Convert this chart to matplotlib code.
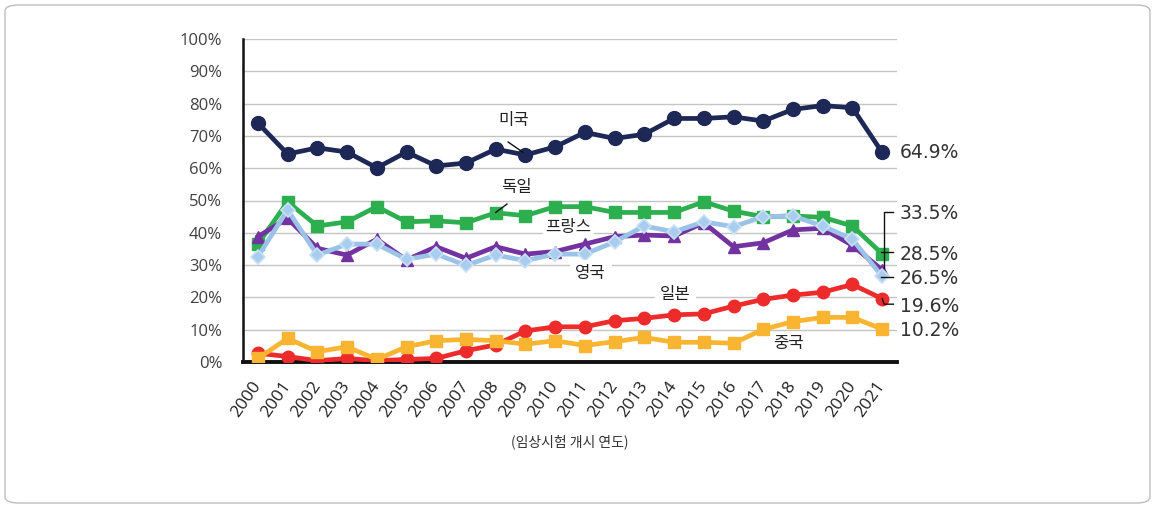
import matplotlib
matplotlib.use("Agg")
import matplotlib.pyplot as plt
from matplotlib.patches import FancyBboxPatch

plt.rcParams['font.family'] = ['Noto Sans CJK KR', 'DejaVu Sans']

years = list(range(2000, 2022))
usa = [74.0, 64.4, 66.3, 65.0, 60.1, 65.0, 60.7, 61.6, 65.9, 64.1, 66.6,
       71.1, 69.2, 70.5, 75.4, 75.4, 75.9, 74.6, 78.2, 79.4, 78.7, 64.9]
germany = [36.5, 49.6, 42.1, 43.4, 48.1, 43.4, 43.7, 43.1, 46.2, 45.3, 48.1,
           48.1, 46.3, 46.3, 46.3, 49.6, 46.7, 45.0, 45.2, 44.8, 42.1, 33.5]
france = [38.8, 44.5, 35.2, 33.1, 38.0, 31.6, 35.7, 32.1, 35.7, 33.4, 34.2,
          36.5, 38.8, 39.3, 39.0, 43.1, 35.7, 36.9, 40.9, 41.4, 36.1, 28.5]
uk = [32.6, 47.1, 33.1, 36.5, 36.5, 31.8, 33.4, 29.9, 33.1, 31.4, 33.4,
      33.4, 37.2, 42.1, 40.3, 43.4, 41.9, 45.0, 45.2, 42.1, 38.0, 26.5]
japan = [2.7, 1.7, 0.4, 1.1, 0.4, 0.8, 1.1, 3.5, 5.3, 9.6, 10.9,
         10.9, 12.8, 13.5, 14.6, 14.9, 17.3, 19.4, 20.7, 21.6, 24.0, 19.6]
china = [1.1, 7.3, 3.2, 4.7, 0.8, 4.7, 6.6, 7.0, 6.6, 5.5, 6.6,
         5.1, 6.3, 7.6, 6.1, 6.1, 5.8, 10.1, 12.5, 13.8, 13.8, 10.2]

yticks = [0, 10, 20, 30, 40, 50, 60, 70, 80, 90, 100]
ytick_labels = [f"{v}%" for v in yticks]
end_labels = ["64.9%", "33.5%", "28.5%", "26.5%", "19.6%", "10.2%"]
xlabel = "(임상시험 개시 연도)"

fig = plt.figure(figsize=(11.56, 5.08), dpi=100)
ax = fig.add_axes([243/1156, 1-362/508, (897-243)/1156, (362-39)/508])

# figure border
border = FancyBboxPatch((5/1156, 5/508), 1145/1156, 498/508,
                        boxstyle="round,pad=0,rounding_size=0.012",
                        transform=fig.transFigure, fill=False,
                        edgecolor="#bdbdbd", linewidth=1.0)
fig.patches.append(border)

lw = 3.4
ax.plot(years, japan, color="#EE2B2B", lw=lw, marker="o", ms=9, zorder=3)
ax.plot(years, china, color="#F9B532", lw=lw, marker="s", ms=9, zorder=4)
ax.plot(years, france, color="#7232A0", lw=lw, marker="^", ms=9, zorder=5)
ax.plot(years, uk, color="#9BC3E8", lw=lw, marker="D", ms=7, mfc="#A9CDEE",
        mec="#C9E0F5", mew=1.2, zorder=6)
ax.plot(years, germany, color="#2DAF50", lw=lw, marker="s", ms=9, zorder=4.5)
ax.plot(years, usa, color="#1E2856", lw=lw, marker="o", ms=10, zorder=7)

ax.set_xlim(1999.5, 2021.5)
ax.set_ylim(0, 100)
ax.set_yticks(yticks)
ax.set_yticklabels(ytick_labels, fontsize=12, color="#404040",
                   family=['Open Sans', 'DejaVu Sans'])
ax.set_xticks(years)
ax.set_xticklabels([str(y) for y in years], rotation=55, ha='right',
                   va='center', rotation_mode='anchor', fontsize=12.5,
                   color="#222222", family=['Open Sans', 'DejaVu Sans'])
ax.tick_params(axis='both', length=0)
ax.tick_params(axis='x', pad=15)
ax.tick_params(axis='y', pad=15)

ax.grid(axis='y', color="#c4c4c4", lw=1.0)
ax.set_axisbelow(True)
for s in ['top', 'right']:
    ax.spines[s].set_visible(False)
ax.spines['left'].set_linewidth(1.8)
ax.spines['bottom'].set_linewidth(2.8)
ax.spines['left'].set_color("#111111")
ax.spines['bottom'].set_color("#111111")

ax.set_xlabel(xlabel, fontsize=10, color="#333333", labelpad=10)

# series labels
lab_kw = dict(fontsize=12, color="#222222", ha='center', va='center', zorder=8)
ax.text(2008.6, 74.8, "미국", **lab_kw)
ax.plot([2008.42, 2008.92], [68.1, 64.9], color="#111111", lw=1.0, zorder=8)
ax.text(2008.71, 54.0, "독일", **lab_kw)
ax.plot([2008.38, 2008.0], [48.9, 46.3], color="#111111", lw=1.0, zorder=8)
ax.text(2010.45, 41.5, "프랑스",
        bbox=dict(facecolor="white", edgecolor="none", pad=1.5), **lab_kw)
ax.text(2011.2, 27.3, "영국",
        bbox=dict(facecolor="white", edgecolor="none", pad=4), **lab_kw)
ax.text(2014.05, 21.0, "일본",
        bbox=dict(facecolor="white", edgecolor="none", pad=4), **lab_kw)
ax.text(2017.85, 5.6, "중국", **lab_kw)

# end labels
end_y = [64.8, 46.1, 33.4, 26.0, 17.3, 9.9]
for txt, yy in zip(end_labels, end_y):
    ax.text(2021.6, yy, txt, fontsize=13.5, color="#333333", ha='left',
            va='center', family=['DejaVu Sans'], clip_on=False, zorder=9)

bk = dict(color="#111111", lw=1.0, clip_on=False, zorder=9)
ax.plot([2021.38, 2021.07, 2021.07], [46.4, 46.4, 29.2], **bk)
ax.plot([2020.95, 2021.38], [34.0, 34.0], **bk)
ax.plot([2020.95, 2021.38], [26.2, 26.2], **bk)
ax.plot([2021.0, 2021.07, 2021.38], [19.6, 17.9, 17.9], **bk)

fig.savefig("out.png", dpi=100)
